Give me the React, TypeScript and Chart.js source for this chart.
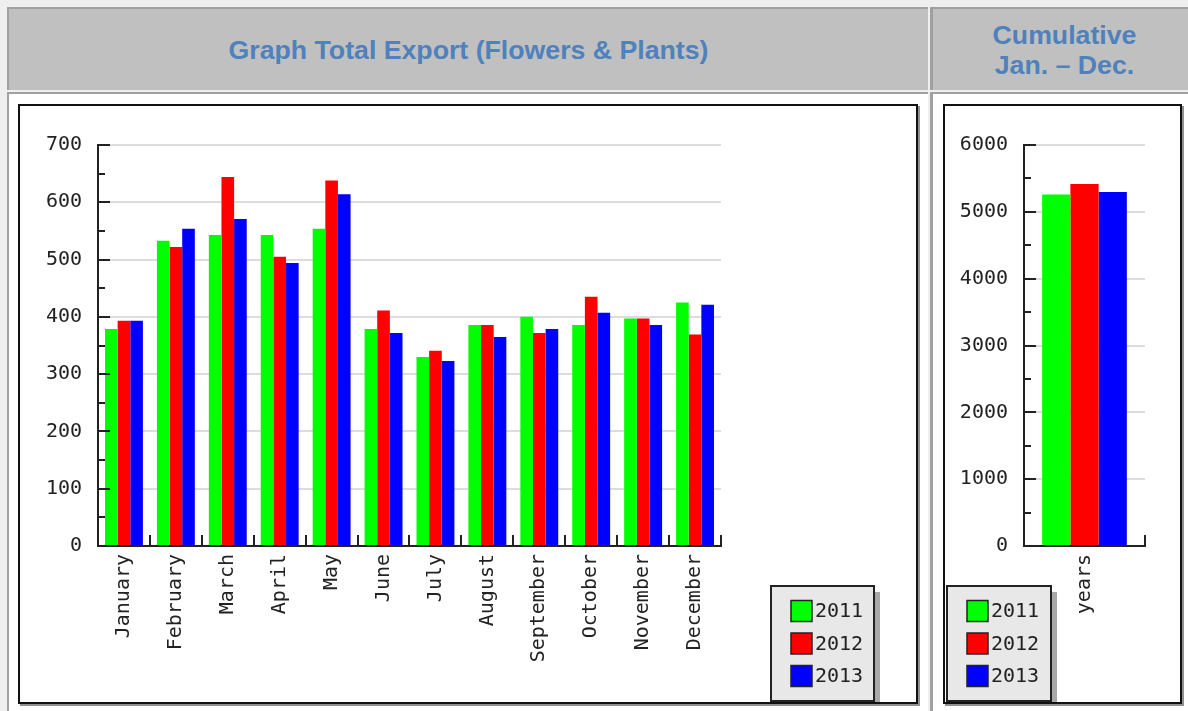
import React, { useEffect, useRef } from "react";
import { Chart, registerables } from "chart.js";

Chart.register(...registerables);

// ---------- data ----------
const months = [
  "January", "February", "March", "April", "May", "June",
  "July", "August", "September", "October", "November", "December",
];
const seriesLabels = ["2011", "2012", "2013"];
const export2011 = [379, 533, 543, 543, 554, 379, 330, 386, 400, 386, 397, 425];
const export2012 = [393, 522, 644, 505, 638, 411, 341, 386, 372, 435, 397, 369];
const export2013 = [393, 554, 571, 494, 614, 372, 323, 365, 379, 407, 386, 421];

const cumulativeCategories = ["years"];
const cumulative2011 = [5260];
const cumulative2012 = [5415];
const cumulative2013 = [5295];

const monthlyAxis = { max: 700, step: 100, minor: 50 };
const cumulativeAxis = { max: 6000, step: 1000, minor: 500 };

const seriesColors = ["#00ff00", "#ff0000", "#0000ff"];

const MONO = "'DejaVu Sans Mono', monospace";

// ---------- plugins ----------
const axisTicksPlugin = {
  id: "axisTicks",
  afterDraw(chart: any, _args: any, opts: any) {
    const { ctx, chartArea, scales } = chart;
    const y = scales.y;
    const x = scales.x;
    ctx.save();
    ctx.strokeStyle = "#222";
    ctx.lineWidth = 2;
    ctx.beginPath();
    for (let v = y.min; v <= y.max + 1e-6; v += opts.minorStep) {
      const py = Math.round(y.getPixelForValue(v));
      const ratio = v / opts.majorStep;
      const major = Math.abs(ratio - Math.round(ratio)) < 1e-6;
      const len = major ? 12 : 7;
      ctx.moveTo(chartArea.left, py);
      ctx.lineTo(chartArea.left + len, py);
    }
    const n = chart.data.labels.length;
    const half = (chartArea.right - chartArea.left) / n / 2;
    for (let i = 0; i < n; i++) {
      const px = Math.round(x.getPixelForValue(i) + half);
      ctx.moveTo(px, chartArea.bottom);
      ctx.lineTo(px, chartArea.bottom - 11);
    }
    ctx.stroke();
    ctx.restore();
  },
};

const boxLegendPlugin = {
  id: "boxLegend",
  afterDraw(chart: any, _args: any, opts: any) {
    const { ctx } = chart;
    const { x, y, w, h } = opts;
    ctx.save();
    ctx.fillStyle = "#a8a8a8";
    ctx.fillRect(x + 6, y + 6, w, h);
    ctx.fillStyle = "#e8e8e8";
    ctx.fillRect(x, y, w, h);
    ctx.strokeStyle = "#222";
    ctx.lineWidth = 2;
    ctx.strokeRect(x, y, w, h);
    chart.data.datasets.forEach((ds: any, i: number) => {
      const cy = y + 25 + i * 32.5;
      ctx.fillStyle = ds.backgroundColor;
      ctx.fillRect(x + 20, cy - 10.5, 21, 21);
      ctx.lineWidth = 1.5;
      ctx.strokeStyle = "#222";
      ctx.strokeRect(x + 20, cy - 10.5, 21, 21);
      ctx.fillStyle = "#222";
      ctx.font = `20px ${MONO}`;
      ctx.textBaseline = "middle";
      ctx.textAlign = "left";
      ctx.fillText(ds.label, x + 44, cy + 1);
    });
    ctx.restore();
  },
};

// ---------- chart component ----------
type BarProps = {
  width: number;
  height: number;
  labels: string[];
  series: number[][];
  axis: { max: number; step: number; minor: number };
  catPct: number;
  yWidth: number;
  xHeight: number;
  padTop: number;
  padRight: number;
  legend: { x: number; y: number; w: number; h: number };
};

function BarChart(p: BarProps) {
  const ref = useRef<HTMLCanvasElement | null>(null);
  useEffect(() => {
    if (!ref.current) return;
    const chart = new Chart(ref.current, {
      type: "bar",
      data: {
        labels: p.labels,
        datasets: p.series.map((data, i) => ({
          label: seriesLabels[i],
          data,
          backgroundColor: seriesColors[i],
          borderWidth: 0,
          barPercentage: 1.0,
          categoryPercentage: p.catPct,
        })),
      },
      options: {
        responsive: false,
        animation: false,
        layout: { padding: { left: 0, top: p.padTop, right: p.padRight, bottom: 0 } },
        plugins: {
          legend: { display: false },
          tooltip: { enabled: false },
          axisTicks: { minorStep: p.axis.minor, majorStep: p.axis.step },
          boxLegend: p.legend,
        } as any,
        scales: {
          x: {
            grid: { display: false, drawTicks: false },
            border: { display: true, color: "#222", width: 2, z: 1 },
            ticks: {
              autoSkip: false,
              minRotation: 90,
              maxRotation: 90,
              padding: 8,
              color: "#222",
              font: { family: MONO, size: 20 },
            },
            afterFit: (s: any) => {
              s.height = p.xHeight;
            },
          },
          y: {
            min: 0,
            max: p.axis.max,
            grid: { color: "#dddddd", lineWidth: 2, drawTicks: false },
            border: { display: true, color: "#222", width: 2, z: 1 },
            ticks: {
              stepSize: p.axis.step,
              padding: 16,
              color: "#222",
              font: { family: MONO, size: 20 },
              callback: (v: any) => String(v),
            },
            afterFit: (s: any) => {
              s.width = p.yWidth;
            },
          },
        },
      },
      plugins: [axisTicksPlugin, boxLegendPlugin],
    });
    return () => chart.destroy();
  }, []);
  return (
    <canvas
      ref={ref}
      width={p.width}
      height={p.height}
      style={{ display: "block", width: p.width, height: p.height }}
    />
  );
}

// ---------- page ----------
const titleStyle: React.CSSProperties = {
  fontFamily: "'Liberation Sans', Arial, sans-serif",
  fontWeight: "bold",
  fontSize: 26.7,
  color: "#4f81bd",
  textAlign: "center",
  lineHeight: "30px",
};

export default function App() {
  return (
    <div
      style={{
        position: "fixed",
        left: 0,
        top: 0,
        width: 1188,
        height: 711,
        overflow: "hidden",
        background: "#efefef",
      }}
    >
      {/* header left */}
      <div
        style={{
          position: "absolute",
          left: 7,
          top: 7,
          width: 921,
          height: 83,
          boxSizing: "border-box",
          borderLeft: "2px solid #a0a0a0",
          borderTop: "2px solid #a0a0a0",
          background: "#c0c0c0",
          display: "flex",
          alignItems: "center",
          justifyContent: "center",
          ...titleStyle,
        }}
      >
        Graph Total Export (Flowers &amp; Plants)
      </div>
      {/* header right */}
      <div
        style={{
          position: "absolute",
          left: 930,
          top: 7,
          width: 266,
          height: 83,
          boxSizing: "border-box",
          borderLeft: "3px solid #a0a0a0",
          borderTop: "2px solid #a0a0a0",
          background: "#c0c0c0",
          display: "flex",
          alignItems: "center",
          justifyContent: "center",
          ...titleStyle,
        }}
      >
        <div>
          Cumulative
          <br />
          Jan. – Dec.
        </div>
      </div>
      {/* body left */}
      <div
        style={{
          position: "absolute",
          left: 7,
          top: 92,
          width: 921,
          height: 640,
          boxSizing: "border-box",
          borderLeft: "2px solid #a0a0a0",
          borderTop: "2px solid #a0a0a0",
          background: "#ffffff",
        }}
      />
      {/* body right */}
      <div
        style={{
          position: "absolute",
          left: 930,
          top: 92,
          width: 266,
          height: 640,
          boxSizing: "border-box",
          borderLeft: "3px solid #a0a0a0",
          borderTop: "2px solid #a0a0a0",
          background: "#ffffff",
        }}
      />
      {/* left chart frame */}
      <div
        style={{
          position: "absolute",
          left: 18,
          top: 104,
          width: 900,
          height: 600,
          boxSizing: "border-box",
          border: "2px solid #111",
          boxShadow: "2px 2px 0 #909090",
          background: "#fff",
        }}
      >
        <BarChart
          width={896}
          height={596}
          labels={months}
          series={[export2011, export2012, export2013]}
          axis={monthlyAxis}
          catPct={0.73}
          yWidth={78}
          xHeight={156}
          padTop={39}
          padRight={195}
          legend={{ x: 751, y: 480, w: 103, h: 115 }}
        />
      </div>
      {/* right chart frame */}
      <div
        style={{
          position: "absolute",
          left: 943,
          top: 104,
          width: 239,
          height: 600,
          boxSizing: "border-box",
          border: "2px solid #111",
          boxShadow: "2px 2px 0 #909090",
          background: "#fff",
        }}
      >
        <BarChart
          width={235}
          height={596}
          labels={cumulativeCategories}
          series={[cumulative2011, cumulative2012, cumulative2013]}
          axis={cumulativeAxis}
          catPct={0.7}
          yWidth={79}
          xHeight={156}
          padTop={39}
          padRight={35}
          legend={{ x: 2, y: 480, w: 104, h: 115 }}
        />
      </div>
    </div>
  );
}
